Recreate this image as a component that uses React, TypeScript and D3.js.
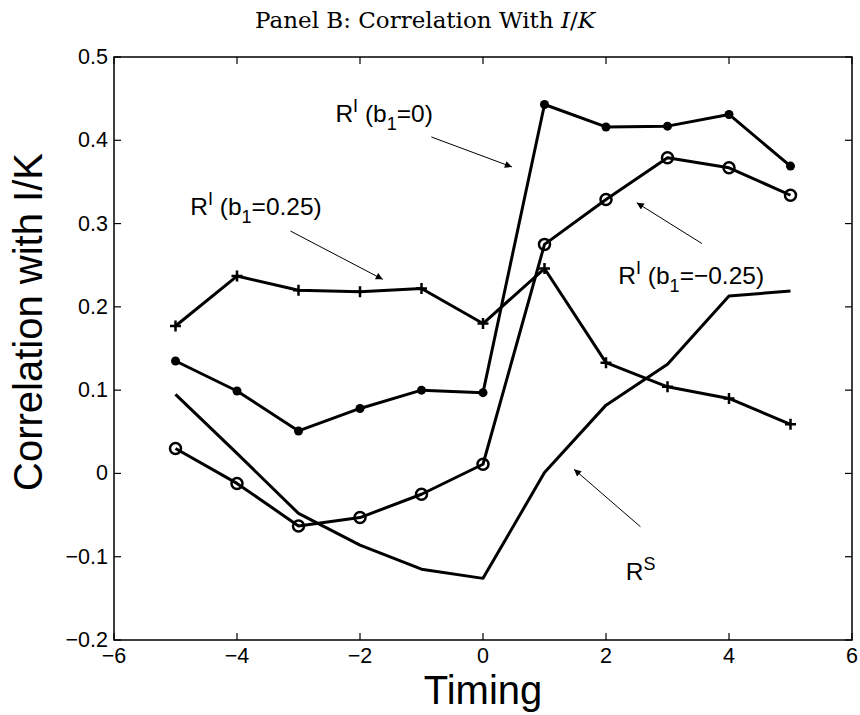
import React, { useEffect, useRef } from "react";
import * as d3 from "d3";

// timing relative to the event, and the four correlation series
const timing = [-5, -4, -3, -2, -1, 0, 1, 2, 3, 4, 5];
const riB0 = [0.135, 0.099, 0.051, 0.078, 0.1, 0.097, 0.443, 0.416, 0.417, 0.431, 0.369];
const riBNeg = [0.03, -0.012, -0.063, -0.053, -0.025, 0.011, 0.275, 0.329, 0.379, 0.367, 0.334];
const riBPos = [0.177, 0.237, 0.22, 0.218, 0.222, 0.18, 0.246, 0.133, 0.104, 0.09, 0.059];
const rs = [0.095, 0.024, -0.048, -0.086, -0.115, -0.126, 0.001, 0.082, 0.131, 0.213, 0.219];

const xTicks = [-6, -4, -2, 0, 2, 4, 6];
const yTicks = [-0.2, -0.1, 0, 0.1, 0.2, 0.3, 0.4, 0.5];

// text callouts: label pieces, text anchor and arrow tail/head in data units
const notes = [
  { base: "R", sup: "I", pre: " (b", sub: "1", post: "=0)", at: [-2.4, 0.422], from: [-0.84, 0.404], to: [0.47, 0.368] },
  { base: "R", sup: "I", pre: " (b", sub: "1", post: "=0.25)", at: [-4.76, 0.31], from: [-3.13, 0.291], to: [-1.63, 0.233] },
  { base: "R", sup: "I", pre: " (b", sub: "1", post: "=\u22120.25)", at: [2.2, 0.228], from: [3.56, 0.276], to: [2.5, 0.325] },
  { base: "R", sup: "S", pre: "", sub: "", post: "", at: [2.32, -0.128], from: [2.56, -0.064], to: [1.48, 0.005] },
];

const W = 860;
const H = 715;
const margin = { top: 57, right: 8, bottom: 75, left: 114 };
const FONT = "'Liberation Sans', Arial, Helvetica, sans-serif";

export default function App() {
  const ref = useRef<SVGSVGElement>(null);

  useEffect(() => {
    const svg = d3.select(ref.current);
    svg.selectAll("*").remove();

    const x = d3.scaleLinear().domain([-6, 6]).range([margin.left, W - margin.right]);
    const y = d3.scaleLinear().domain([-0.2, 0.5]).range([H - margin.bottom, margin.top]);
    const x0 = x.range()[0], x1 = x.range()[1];
    const y0 = y.range()[0], y1 = y.range()[1];

    svg.append("defs").append("marker")
      .attr("id", "head")
      .attr("viewBox", "0 0 10 10")
      .attr("refX", 10).attr("refY", 5)
      .attr("markerWidth", 9).attr("markerHeight", 7)
      .attr("markerUnits", "userSpaceOnUse")
      .attr("orient", "auto")
      .append("path").attr("d", "M0,0 L10,5 L0,10 z").attr("fill", "#000");

    // title
    const title = svg.append("text")
      .attr("x", 425).attr("y", 28)
      .attr("text-anchor", "middle")
      .attr("font-family", "'DejaVu Serif', 'Liberation Serif', serif")
      .attr("font-size", 23);
    title.append("tspan").text("Panel B: Correlation With ");
    title.append("tspan").attr("font-style", "italic").text("I");
    title.append("tspan").text("/");
    title.append("tspan").attr("font-style", "italic").text("K");

    // ticks, inward on all four sides
    const tk = 7;
    const g = svg.append("g").attr("stroke", "#000").attr("stroke-width", 1.2);
    xTicks.forEach(t => {
      g.append("line").attr("x1", x(t)).attr("x2", x(t)).attr("y1", y0).attr("y2", y0 - tk);
      g.append("line").attr("x1", x(t)).attr("x2", x(t)).attr("y1", y1).attr("y2", y1 + tk);
    });
    yTicks.forEach(t => {
      g.append("line").attr("x1", x0).attr("x2", x0 + tk).attr("y1", y(t)).attr("y2", y(t));
      g.append("line").attr("x1", x1).attr("x2", x1 - tk).attr("y1", y(t)).attr("y2", y(t));
    });

    const fx = d3.format("d");
    const fy = (v: number) => (v === 0 ? "0" : d3.format(".1f")(v));

    svg.append("g").selectAll("text").data(xTicks).enter().append("text")
      .attr("x", d => x(d)).attr("y", y0 + 23)
      .attr("text-anchor", "middle")
      .attr("font-family", FONT).attr("font-size", 21.5)
      .text(d => fx(d));

    svg.append("g").selectAll("text").data(yTicks).enter().append("text")
      .attr("x", x0 - 6).attr("y", d => y(d) + 7)
      .attr("text-anchor", "end")
      .attr("font-family", FONT).attr("font-size", 21.5)
      .text(d => fy(d));

    // axis labels
    svg.append("text")
      .attr("x", (x0 + x1) / 2).attr("y", 704)
      .attr("text-anchor", "middle")
      .attr("font-family", FONT).attr("font-size", 40)
      .text("Timing");
    svg.append("text")
      .attr("transform", "translate(42,322) rotate(-90)")
      .attr("text-anchor", "middle")
      .attr("font-family", FONT).attr("font-size", 40)
      .text("Correlation with I/K");

    // series lines
    const line = d3.line<number>().x((d, i) => x(timing[i])).y(d => y(d));
    [riB0, riBNeg, riBPos, rs].forEach(s => {
      svg.append("path").datum(s)
        .attr("d", line)
        .attr("fill", "none").attr("stroke", "#000")
        .attr("stroke-width", 3).attr("stroke-linejoin", "round");
    });

    // markers
    svg.append("g").selectAll("circle").data(riB0).enter().append("circle")
      .attr("cx", (d, i) => x(timing[i])).attr("cy", d => y(d))
      .attr("r", 4.5).attr("fill", "#000");
    svg.append("g").selectAll("circle").data(riBNeg).enter().append("circle")
      .attr("cx", (d, i) => x(timing[i])).attr("cy", d => y(d))
      .attr("r", 5.5).attr("fill", "none").attr("stroke", "#000").attr("stroke-width", 2.5);
    svg.append("g").selectAll("path").data(riBPos).enter().append("path")
      .attr("d", (d, i) => {
        const cx = x(timing[i]), cy = y(d), s = 5.5;
        return `M${cx - s},${cy}H${cx + s}M${cx},${cy - s}V${cy + s}`;
      })
      .attr("stroke", "#000").attr("stroke-width", 2.5);

    // callouts
    notes.forEach(n => {
      svg.append("line")
        .attr("x1", x(n.from[0])).attr("y1", y(n.from[1]))
        .attr("x2", x(n.to[0])).attr("y2", y(n.to[1]))
        .attr("stroke", "#000").attr("stroke-width", 1)
        .attr("marker-end", "url(#head)");
      const t = svg.append("text")
        .attr("x", x(n.at[0])).attr("y", y(n.at[1]))
        .attr("font-family", FONT).attr("font-size", 24.5);
      t.append("tspan").text(n.base);
      t.append("tspan").attr("dy", -10).attr("font-size", 18).text(n.sup);
      if (n.pre) {
        t.append("tspan").attr("dy", 10).text(n.pre);
        t.append("tspan").attr("dy", 8).attr("font-size", 18).text(n.sub);
        t.append("tspan").attr("dy", -8).text(n.post);
      }
    });

    // frame
    svg.append("rect")
      .attr("x", x0).attr("y", y1)
      .attr("width", x1 - x0).attr("height", y0 - y1)
      .attr("fill", "none").attr("stroke", "#000").attr("stroke-width", 1.5);
  }, []);

  return (
    <svg ref={ref} width={W} height={H}
      style={{ position: "absolute", left: 0, top: 0, background: "#fff" }} />
  );
}
